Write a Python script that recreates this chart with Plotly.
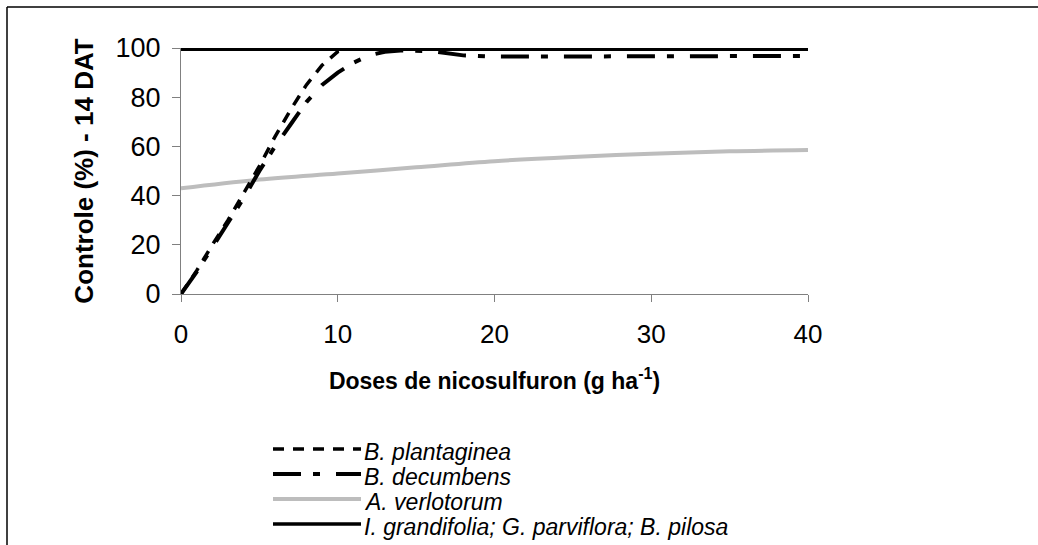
import plotly.graph_objects as go

# ---- data ----
doses = [0, 1, 2, 3, 4, 5, 6, 7, 8, 9, 10, 11, 12, 13, 14, 16, 18, 20, 25, 30, 35, 40]
b_plantaginea = [0, 9.5, 20, 30, 41, 52, 64, 75, 85, 93, 98.5, 100, 100, 100, 100, 100, 100, 100, 100, 100, 100, 100]
b_decumbens = [0, 9, 19, 29, 39, 50, 60, 69, 78, 85, 90, 94, 97, 98.5, 99, 98.7, 97, 96.5, 96.7, 96.7, 96.7, 96.7]
verl_x = [0, 5, 10, 15, 20, 25, 30, 35, 40]
a_verlotorum = [43, 46.5, 49, 51.5, 54, 55.7, 57, 58, 58.5]
others_x = [0, 40]
others = [99.5, 99.5]

x_ticks = [0, 10, 20, 30, 40]
y_ticks = [0, 20, 40, 60, 80, 100]
legend_names = ["B. plantaginea", "B. decumbens", "A. verlotorum",
                "I. grandifolia; G. parviflora; B. pilosa"]

# ---- styles ----
styles = [
    dict(color="black", width=3.5, dash="11px,9px"),
    dict(color="black", width=4, dash="28px,12px,7px,16px"),
    dict(color="#bdbdbd", width=4, dash="solid"),
    dict(color="black", width=3.5, dash="solid"),
]

W, H = 1038, 545
L, R, T, B = 181, 808, 48, 294

fig = go.Figure()
fig.add_trace(go.Scatter(x=verl_x, y=a_verlotorum, mode="lines", line=styles[2],
                         line_shape="spline", name=legend_names[2]))
fig.add_trace(go.Scatter(x=doses, y=b_decumbens, mode="lines", line=styles[1],
                         name=legend_names[1]))
fig.add_trace(go.Scatter(x=others_x, y=others, mode="lines", line=styles[3],
                         name=legend_names[3]))
fig.add_trace(go.Scatter(x=doses, y=b_plantaginea, mode="lines", line=styles[0],
                         name=legend_names[0]))


def px2x(px):
    return (px - L) / (R - L)


def py2y(py):
    return (B - py) / (B - T)


shapes = []
annotations = []
# outer frame (top and left edges visible)
shapes.append(dict(type="line", xref="paper", yref="paper", x0=px2x(7), x1=px2x(W + 5),
                   y0=py2y(7), y1=py2y(7), line=dict(color="black", width=1.5)))
shapes.append(dict(type="line", xref="paper", yref="paper", x0=px2x(7), x1=px2x(7),
                   y0=py2y(7), y1=py2y(H + 5), line=dict(color="black", width=1.5)))

rows = [449, 474, 499, 524]
for name, st, ry in zip(legend_names, styles, rows):
    shapes.append(dict(type="line", xref="paper", yref="paper",
                       x0=px2x(273), x1=px2x(361), y0=py2y(ry), y1=py2y(ry),
                       line=dict(color=st["color"], width=st["width"], dash=st["dash"])))
    annotations.append(dict(xref="paper", yref="paper", x=px2x(363), y=py2y(ry + 3),
                            xanchor="left", yanchor="middle", showarrow=False,
                            borderpad=0,
                            text="<i>" + name + "</i>",
                            font=dict(family="Liberation Sans, Arial", size=23, color="black")))

fig.update_layout(
    width=W, height=H,
    margin=dict(l=L, r=W - R, t=T, b=H - B, pad=0),
    paper_bgcolor="white", plot_bgcolor="white",
    showlegend=False,
    font=dict(family="Liberation Sans, Arial", color="black", size=26),
    shapes=shapes, annotations=annotations,
    xaxis=dict(range=[0, 40], tickvals=x_ticks, ticktext=[str(v) for v in x_ticks],
               showgrid=False, zeroline=False, showline=True, linecolor="#808080", linewidth=1,
               ticks="outside", ticklen=7, tickcolor="#808080", tickfont=dict(size=26),
               ticklabelstandoff=10,
               title=dict(text="<b>Doses de nicosulfuron (g ha<sup>-1</sup>)</b>",
                          font=dict(size=23), standoff=24)),
    yaxis=dict(range=[0, 100], tickvals=y_ticks, ticktext=[str(v) for v in y_ticks],
               showgrid=False, zeroline=False, showline=True, linecolor="#808080", linewidth=1,
               ticks="outside", ticklen=8, tickcolor="#808080", tickfont=dict(size=27),
               ticklabelstandoff=6,
               title=dict(text="<b>Controle (%) - 14 DAT</b>", font=dict(size=26), standoff=14)),
)

fig.write_html("out.html")
